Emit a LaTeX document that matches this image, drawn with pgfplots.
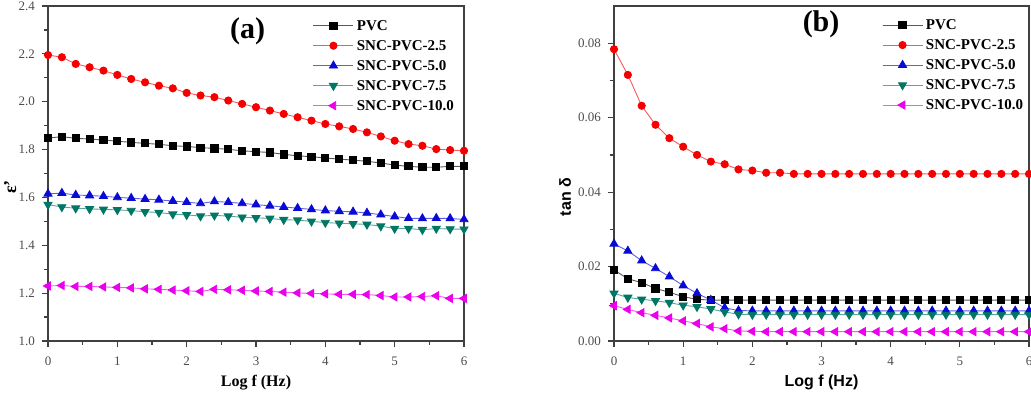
\documentclass[border=0pt]{standalone}
\usepackage{fontspec}
\setmainfont{Liberation Serif}
\setsansfont{Liberation Sans}
\usepackage{pgfplots}
\usepackage{pgfplotstable}
\pgfplotsset{compat=1.18}

\definecolor{sBlack}{RGB}{0,0,0}
\definecolor{sRed}{RGB}{245,0,0}
\definecolor{sBlue}{RGB}{10,10,215}
\definecolor{sTeal}{RGB}{0,118,100}
\definecolor{sMag}{RGB}{235,0,235}

% real permittivity, columns: log f, PVC, SNC-PVC-2.5, -5.0, -7.5, -10.0
\pgfplotstableread{
x   pvc   s25   s50   s75   s100
0.0 1.848 2.195 1.615 1.570 1.230
0.2 1.854 2.186 1.618 1.560 1.232
0.4 1.847 2.158 1.610 1.555 1.228
0.6 1.844 2.144 1.608 1.552 1.228
0.8 1.840 2.130 1.605 1.550 1.226
1.0 1.835 2.112 1.600 1.548 1.224
1.2 1.830 2.095 1.597 1.545 1.222
1.4 1.826 2.081 1.593 1.540 1.218
1.6 1.822 2.067 1.590 1.537 1.216
1.8 1.816 2.056 1.585 1.530 1.213
2.0 1.813 2.037 1.580 1.527 1.210
2.2 1.808 2.026 1.575 1.522 1.207
2.4 1.805 2.019 1.583 1.525 1.216
2.6 1.801 2.005 1.580 1.522 1.214
2.8 1.795 1.991 1.575 1.517 1.212
3.0 1.791 1.977 1.570 1.515 1.209
3.2 1.788 1.963 1.565 1.512 1.207
3.4 1.780 1.949 1.560 1.507 1.204
3.6 1.774 1.935 1.555 1.505 1.201
3.8 1.770 1.921 1.550 1.500 1.199
4.0 1.765 1.907 1.545 1.495 1.197
4.2 1.760 1.897 1.542 1.492 1.195
4.4 1.756 1.886 1.540 1.490 1.195
4.6 1.751 1.872 1.535 1.487 1.194
4.8 1.744 1.855 1.528 1.480 1.190
5.0 1.735 1.837 1.520 1.470 1.184
5.2 1.730 1.823 1.513 1.470 1.184
5.4 1.726 1.816 1.512 1.465 1.186
5.6 1.726 1.802 1.513 1.470 1.189
5.8 1.730 1.798 1.512 1.468 1.178
6.0 1.730 1.795 1.508 1.467 1.178
}\epsdata

% loss tangent
\pgfplotstableread{
x   pvc    s25    s50    s75    s100
0.0 0.0191 0.0784 0.0261 0.0128 0.0095
0.2 0.0167 0.0715 0.0242 0.0117 0.0085
0.4 0.0157 0.0632 0.0216 0.0112 0.0076
0.6 0.0141 0.0581 0.0195 0.0108 0.0069
0.8 0.0131 0.0545 0.0173 0.0103 0.0062
1.0 0.0119 0.0522 0.0149 0.0096 0.0054
1.2 0.0112 0.0500 0.0128 0.0092 0.0047
1.4 0.0110 0.0482 0.0110 0.0086 0.0038
1.6 0.0110 0.0475 0.0089 0.0078 0.0033
1.8 0.0110 0.0461 0.0082 0.0072 0.0027
2.0 0.0110 0.0458 0.0081 0.0071 0.0026
2.2 0.0110 0.0452 0.0081 0.0071 0.0025
2.4 0.0110 0.0452 0.0081 0.0071 0.0025
2.6 0.0110 0.0449 0.0081 0.0071 0.0025
2.8 0.0110 0.0449 0.0081 0.0071 0.0025
3.0 0.0110 0.0449 0.0081 0.0071 0.0025
3.2 0.0110 0.0449 0.0081 0.0071 0.0025
3.4 0.0110 0.0449 0.0081 0.0071 0.0025
3.6 0.0110 0.0449 0.0081 0.0071 0.0025
3.8 0.0110 0.0449 0.0081 0.0071 0.0025
4.0 0.0110 0.0449 0.0081 0.0071 0.0025
4.2 0.0110 0.0449 0.0081 0.0071 0.0025
4.4 0.0110 0.0449 0.0081 0.0071 0.0025
4.6 0.0110 0.0449 0.0081 0.0071 0.0025
4.8 0.0110 0.0449 0.0081 0.0071 0.0025
5.0 0.0110 0.0449 0.0081 0.0071 0.0025
5.2 0.0110 0.0449 0.0081 0.0071 0.0025
5.4 0.0110 0.0449 0.0081 0.0071 0.0025
5.6 0.0110 0.0449 0.0081 0.0071 0.0025
5.8 0.0110 0.0449 0.0081 0.0071 0.0025
6.0 0.0110 0.0449 0.0081 0.0071 0.0025
}\tandata

\pgfplotsset{
  panel/.style={
    scale only axis, height=167.5pt,
    xmin=0, xmax=6, xtick={0,...,6}, minor x tick num=1,
    minor y tick num=1,
    tick pos=left, tick align=outside,
    major tick length=3pt, minor tick length=1.8pt,
    axis line style={line width=0.75pt, black!75},
    every tick/.style={black!75, line width=0.6pt},
    tick label style={font=\fontsize{6.5}{7}\selectfont, text=black!70},
    xticklabel style={yshift=-1.5pt},
    /pgf/number format/assume math mode=true,
    clip=false,
    xlabel style={at={(axis description cs:0.5,-0.125)}, anchor=center},
    legend cell align=left,
    legend image code/.code={\draw[mark repeat=2,mark phase=2,##1] plot coordinates {(0pt,0pt)(10pt,0pt)(20pt,0pt)};},
    legend style={draw=none, fill=none, inner sep=0pt, outer sep=0pt, row sep=0pt,
      anchor=north west,
      nodes={inner ysep=0pt, inner xsep=1.5pt, text height=7.2pt, text depth=2.8pt,
             font=\bfseries\fontsize{7.5}{9}\selectfont}},
  },
  ser/.style={line width=0.45pt, color=#1!65, mark size=1.8pt,
    mark options={solid, draw=#1, fill=#1}},
  tri/.style={mark=triangle*, mark size=2.3pt},
  turn/.style={every mark/.append style={rotate=#1}},
}

\begin{document}
\begin{tikzpicture}
\useasboundingbox (0,0) rectangle (515.5pt,198pt);

% (a) real permittivity
\begin{axis}[panel, at={(24pt,27.5pt)}, anchor=south west, width=208pt,
  ymin=1.0, ymax=2.4, ytick={1.0,1.2,...,2.41},
  yticklabel style={/pgf/number format/.cd, fixed, fixed zerofill, precision=1},
  xlabel={\bfseries\fontsize{8}{9}\selectfont Log f (Hz)},
  ylabel={\bfseries\fontsize{9}{10}\selectfont ε’},
  ylabel style={at={(axis description cs:-0.091,0.46)}, anchor=center},
  legend style={at={(axis description cs:0.637,0.971)}},
]
\addplot[ser=sBlack, mark=square*] table[x=x, y=pvc] {\epsdata};
\addplot[ser=sRed, mark=*] table[x=x, y=s25] {\epsdata};
\addplot[ser=sBlue, tri] table[x=x, y=s50] {\epsdata};
\addplot[ser=sTeal, tri, turn=180] table[x=x, y=s75] {\epsdata};
\addplot[ser=sMag, tri, turn=90] table[x=x, y=s100] {\epsdata};
\legend{PVC, SNC-PVC-2.5, SNC-PVC-5.0, SNC-PVC-7.5, SNC-PVC-10.0}
\node[font=\bfseries\fontsize{15}{16}\selectfont] at (axis description cs:0.48,0.925) {(a)};
\end{axis}

% (b) loss tangent
\begin{axis}[panel, at={(307pt,27.5pt)}, anchor=south west, width=207.5pt,
  ymin=0, ymax=0.09, ytick={0,0.02,...,0.081},
  yticklabel style={/pgf/number format/.cd, fixed, fixed zerofill, precision=2},
  scaled y ticks=false,
  xlabel={\sffamily\bfseries\fontsize{8}{9}\selectfont Log f (Hz)},
  ylabel={\sffamily\bfseries\fontsize{8}{9}\selectfont tan δ},
  ylabel style={at={(axis description cs:-0.118,0.43)}, anchor=center},
  legend style={at={(axis description cs:0.646,0.973)}},
]
\addplot[ser=sBlack, mark=square*] table[x=x, y=pvc] {\tandata};
\addplot[ser=sRed, mark=*] table[x=x, y=s25] {\tandata};
\addplot[ser=sBlue, tri] table[x=x, y=s50] {\tandata};
\addplot[ser=sTeal, tri, turn=180] table[x=x, y=s75] {\tandata};
\addplot[ser=sMag, tri, turn=90] table[x=x, y=s100] {\tandata};
\legend{PVC, SNC-PVC-2.5, SNC-PVC-5.0, SNC-PVC-7.5, SNC-PVC-10.0}
\node[font=\bfseries\fontsize{15}{16}\selectfont] at (axis description cs:0.499,0.945) {(b)};
\end{axis}
\end{tikzpicture}
\end{document}
